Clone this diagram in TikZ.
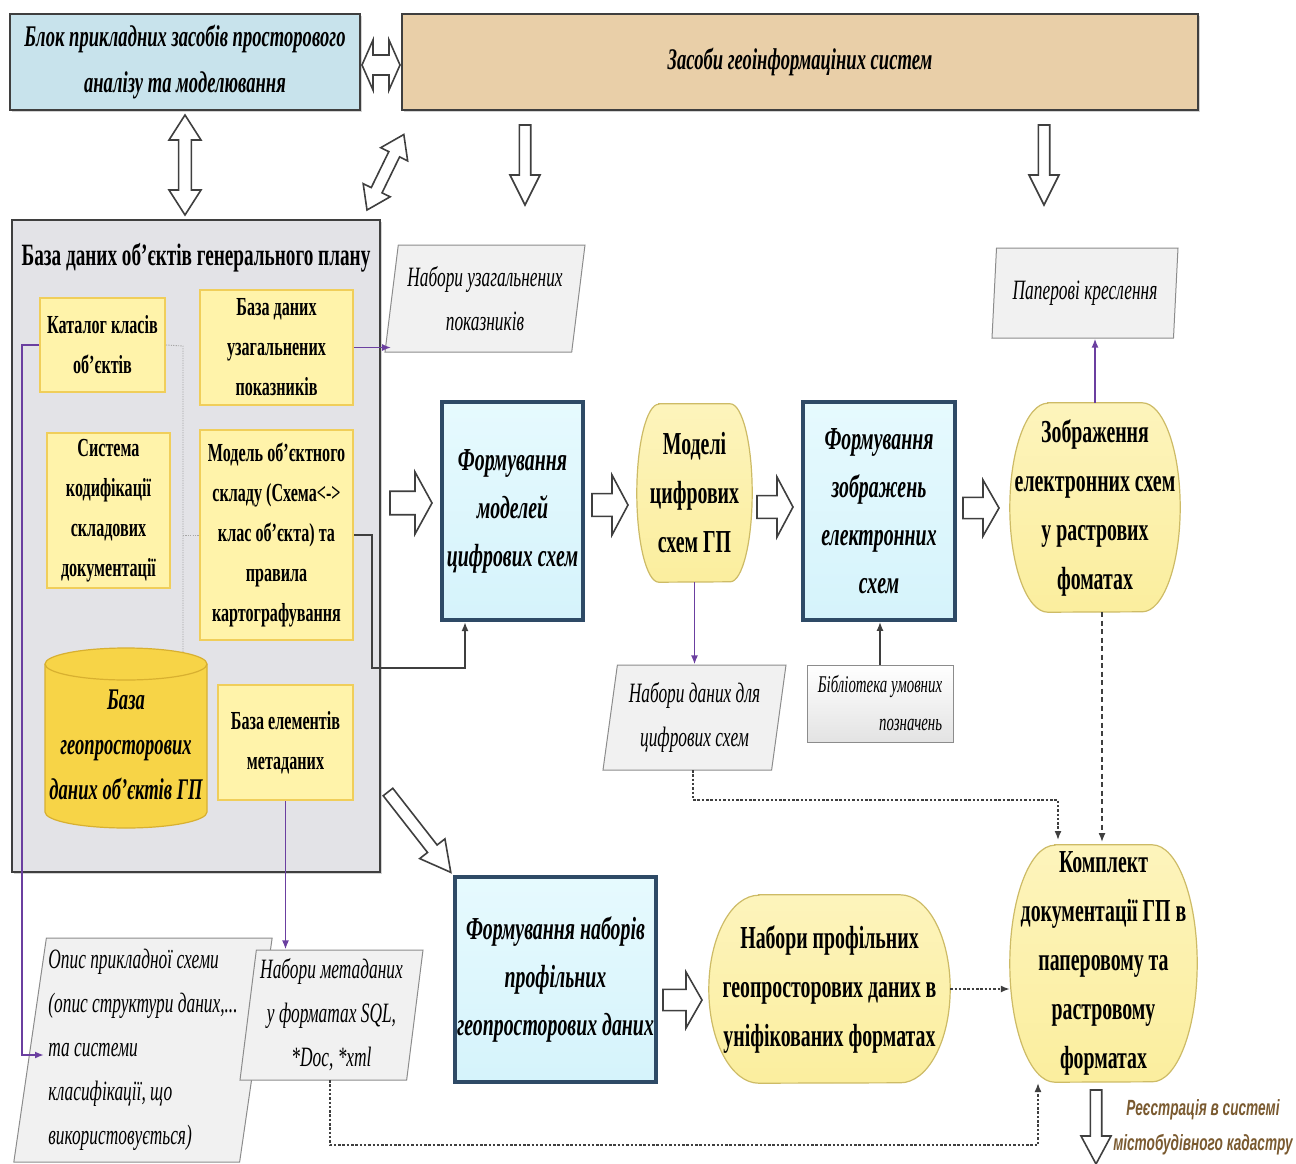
\documentclass[tikz,border=0pt]{standalone}
\usepackage{fontspec}
\setmainfont{Liberation Serif}[FakeStretch=0.62]
\newfontfamily\regfont{Liberation Sans}[FakeStretch=0.62]
\usetikzlibrary{shapes.geometric,arrows.meta,shadows,backgrounds}
\definecolor{bluebox}{HTML}{C8E3EC}
\definecolor{tanbox}{HTML}{E9CFA8}
\definecolor{grayblk}{HTML}{E3E3E7}
\definecolor{ybox}{HTML}{FFF3AA}
\definecolor{yborder}{HTML}{F0CE5A}
\definecolor{cylfill}{HTML}{F7D447}
\definecolor{cylbord}{HTML}{D8B030}
\definecolor{procfill}{HTML}{D5F3FB}
\definecolor{proctop}{HTML}{E6FAFE}
\definecolor{procbord}{HTML}{2E4A66}
\definecolor{termfill}{HTML}{FBEE9E}
\definecolor{termtop}{HTML}{FDF4BC}
\definecolor{termbord}{HTML}{CDBB66}
\definecolor{parafill}{HTML}{F1F1F1}
\definecolor{parabord}{HTML}{8C8C8C}
\definecolor{purp}{HTML}{6B3FA0}
\definecolor{dk}{HTML}{3F3F3F}
\definecolor{regcol}{HTML}{7A5A30}
\tikzset{
  pics/sarrow/.style n args={3}{code={
    \draw[barrow] (0,{-0.19*#2}) -- ({#1-#3},{-0.19*#2}) -- ({#1-#3},{-0.5*#2}) -- (#1,0)
      -- ({#1-#3},{0.5*#2}) -- ({#1-#3},{0.19*#2}) -- (0,{0.19*#2}) -- cycle;}},
  pics/darrow/.style n args={3}{code={
    \draw[barrow] (0,0) -- (#3,{0.5*#2}) -- (#3,{0.2*#2}) -- ({#1-#3},{0.2*#2}) -- ({#1-#3},{0.5*#2})
      -- (#1,0) -- ({#1-#3},{-0.5*#2}) -- ({#1-#3},{-0.2*#2}) -- (#3,{-0.2*#2}) -- (#3,{-0.5*#2}) -- cycle;}}
}
% barrel outline (flat top/bottom, elliptic sides) around a named node: name, bulge, half height
\newcommand\barrelshape[3]{%
  \path[termdraw] ([xshift=#2]#1.north west) -- ([xshift=-#2]#1.north east)
    arc[start angle=90,end angle=-90,x radius=#2,y radius=#3] -- ([xshift=#2]#1.south west)
    arc[start angle=270,end angle=90,x radius=#2,y radius=#3] -- cycle;}
\begin{document}
\begin{tikzpicture}[x=1pt,y=1pt,
  base/.style={inner sep=2pt, align=center},
  barrow/.style={fill=white, draw=dk, line width=1.6pt, line join=miter},
  topbox/.style={base, draw=dk, line width=2.6pt,
     drop shadow={shadow xshift=1.5pt,shadow yshift=-2pt,opacity=.35},
     font={\fontsize{30}{46}\selectfont\bfseries\itshape}},
  bigbox/.style={draw=dk, line width=2.6pt, fill=grayblk,
     drop shadow={shadow xshift=2pt,shadow yshift=-2pt,opacity=.35}},
  ybx/.style={base, fill=ybox, draw=yborder, line width=2pt,
     font={\fontsize{26}{40}\selectfont\bfseries}},
  proc/.style={base, top color=proctop, bottom color=procfill, draw=procbord, line width=3.6pt,
     drop shadow={shadow xshift=1pt,shadow yshift=-1.5pt,opacity=.3},
     font={\fontsize{32}{48}\selectfont\bfseries\itshape}},
  term/.style={base, font={\fontsize{32}{49}\selectfont\bfseries}},
  termdraw/.style={top color=termtop, bottom color=termfill, draw=termbord, line width=1.2pt},
  para/.style={base, trapezium, trapezium stretches body, fill=parafill, draw=parabord, line width=1pt,
     font={\fontsize{28}{44}\selectfont\itshape}},
  purparr/.style={draw=purp, line width=1.8pt, -{Latex[length=9pt,width=7pt]}},
  dkarr/.style={draw=dk, line width=1.8pt, -{Latex[length=9pt,width=7pt]}},
  dotarr/.style={draw=dk, line width=1.6pt, dash pattern=on 2.5pt off 1.8pt, -{Latex[length=9pt,width=7pt]}},
  dashedarr/.style={draw=dk, line width=1.4pt, dash pattern=on 5pt off 3.5pt, -{Latex[length=9pt,width=7pt]}},
  thindot/.style={draw=gray!70, line width=0.9pt, dash pattern=on 1.2pt off 1.2pt}
]
\useasboundingbox (0,0) rectangle (1296,-1164);

% top boxes
\node[topbox, fill=bluebox, minimum width=350, minimum height=96] (blk) at (185,-62)
  {Блок прикладних засобів просторового\\аналізу та моделювання};
\node[topbox, fill=tanbox, minimum width=796, minimum height=96] (gis) at (800,-62)
  {Засоби геоінформаціних систем};

% big database block
\node[bigbox, minimum width=368, minimum height=652, inner sep=0pt] (bd) at (196,-546) {};
\node[base, font={\fontsize{31}{40}\selectfont\bfseries}] (bdt) at (196,-258)
  {База даних об’єктів генерального плану};

% dotted thin links inside
\coordinate (dv1) at (183,-346);
\coordinate (dv2) at (183,-535);
\coordinate (dv3) at (183,-652);

\node[ybx, minimum width=125, minimum height=94] (kat) at (102.5,-345) {Каталог класів\\об’єктів};
\node[ybx, minimum width=153, minimum height=115] (bdu) at (276.5,-347.5) {База даних\\узагальнених\\показників};
\node[ybx, minimum width=123, minimum height=155] (sys) at (108.5,-510.5) {Система\\кодифікації\\складових\\документації};
\node[ybx, minimum width=153, minimum height=210] (mos) at (276.5,-535) {Модель об’єктного\\складу (Схема<->\\клас об’єкта) та\\правила\\картографування};
\node[ybx, minimum width=135, minimum height=115] (bem) at (285.5,-742.5) {База елементів\\метаданих};

\draw[thindot] (kat.east) -- (dv1) -- (dv3);
\draw[thindot] (dv2) -- (mos.west |- dv2);

% cylinder
\path[fill=cylfill, draw=cylbord, line width=1.2pt] (45,-664) -- (45,-812)
  arc[start angle=180,end angle=360,x radius=81,y radius=16] -- (207,-664)
  arc[start angle=0,end angle=180,x radius=81,y radius=16] -- cycle;
\draw[cylbord, line width=1.2pt] (45,-664) arc[start angle=180,end angle=360,x radius=81,y radius=16];
\node[base, font={\fontsize{30}{45}\selectfont\bfseries\itshape}] (cyl) at (126,-745)
  {База\\геопросторових\\даних об’єктів ГП};

% parallelograms and output boxes
\node[para, trapezium left angle=79, trapezium right angle=101, minimum width=200, minimum height=107] (nu) at (485,-298.5)
  {Набори узагальнених\\показників};
\node[para, trapezium left angle=81, trapezium right angle=99, minimum width=186, minimum height=90] (pap) at (1085,-293)
  {Паперові креслення};
\node[para, trapezium left angle=79, trapezium right angle=101, minimum width=183, minimum height=105] (nd) at (694.5,-717.5)
  {Набори даних для\\цифрових схем};
\node[base, draw=parabord, line width=1pt, top color=white, bottom color=gray!22, align=right,
  minimum width=146, minimum height=77, font={\fontsize{24}{38}\selectfont\itshape}] (bib) at (880,-703.5)
  {Бібліотека умовних\\позначень};
\node[para, trapezium left angle=81, trapezium right angle=99, minimum width=230, minimum height=224, align=left] (opis) at (143,-1050)
  {Опис прикладної схеми\\(опис структури даних,...\\та системи\\класифікації, що\\використовується)};
\node[para, trapezium left angle=82, trapezium right angle=98, minimum width=183, minimum height=130] (nm) at (331.5,-1015)
  {Набори метаданих\\у форматах SQL,\\*Doc, *xml};

% process boxes
\node[proc, minimum width=141, minimum height=218] (fm) at (512.5,-511) {Формування\\моделей\\цифрових схем};
\node[proc, minimum width=152, minimum height=218] (fz) at (879,-511) {Формування\\зображень\\електронних\\схем};
\node[proc, minimum width=195, minimum height=205] (fn) at (555.5,-979.5) {Формування наборів\\профільних\\геопросторових даних};

% terminals (text nodes; barrel outline drawn behind)
\node[term, minimum width=115, minimum height=178] (mod) at (694.5,-493) {Моделі\\цифрових\\схем ГП};
\node[term, minimum width=170, minimum height=209] (zob) at (1095,-507.5) {Зображення\\електронних схем\\у растрових\\фоматах};
\node[term, minimum width=241, minimum height=188] (npr) at (829.5,-989) {Набори профільних\\геопросторових даних в\\уніфікованих форматах};
\node[term, minimum width=187, minimum height=237] (kompl) at (1103.5,-963.5) {Комплект\\документації ГП в\\паперовому та\\растровому\\форматах};
\begin{scope}[on background layer]
  \barrelshape{mod}{22}{89}
  \barrelshape{zob}{38}{104.5}
  \barrelshape{npr}{50}{94}
  \barrelshape{kompl}{45}{118.5}
\end{scope}

% registration label
\node[base, text=regcol, font={\regfont\fontsize{22}{35}\selectfont\bfseries\itshape}] (reg) at (1203,-1127)
  {Реєстрація в системі\\містобудівного кадастру};

% block arrows
\pic at (362,-65) {darrow={38}{50}{11}};
\pic[rotate=-90] at (185,-115) {darrow={100}{32}{25}};
\pic[rotate=64] at (367,-210) {darrow={84}{30}{22}};
\pic[rotate=-90] at (525,-125) {sarrow={80}{30}{30}};
\pic[rotate=-90] at (1044,-125) {sarrow={80}{30}{30}};
\pic at (390,-503) {sarrow={42}{62}{17}};
\pic at (592,-505) {sarrow={36}{60}{16}};
\pic at (757,-507) {sarrow={36}{60}{16}};
\pic at (963,-508) {sarrow={36}{56}{16}};
\pic[rotate=-52] at (388,-792) {sarrow={102}{32}{30}};
\pic at (663,-1000) {sarrow={39}{56}{16}};
\pic[rotate=-90] at (1096,-1090) {sarrow={74}{30}{28}};

% connectors
\coordinate (c1) at (372,-535);
\coordinate (c2) at (372,-668);
\coordinate (c3) at (465,-668);
\coordinate (c4) at (465,-622);
\draw[purparr] (bdu.east) -- (bdu.east -| nu.west);
\draw[purparr] (mod.south) -- (mod.south |- nd.north);
\draw[purparr] (zob.north) -- (zob.north |- pap.south);
\draw[purparr] (kat.west) -- (22,-345) -- (22,-1055) -- (44,-1055);
\draw[purparr] (bem.south) -- (bem.south |- nm.north);
\draw[dkarr] (bib.north) -- (bib.north |- fz.south);
\draw[dkarr, line join=miter] (mos.east) -- (c1) -- (c2) -- (c3) -- (c4);
\draw[dotarr] (693,-770) -- (693,-800) -- (1058,-800) -- (1058,-840);
\draw[dashedarr] (1102,-612) -- (1102,-842);
\draw[dotarr] (npr.east) -- (npr.east -| kompl.west);
\draw[dotarr] (330,-1080) -- (330,-1145) -- (1038,-1145) -- (1038,-1083);
\end{tikzpicture}
\end{document}
